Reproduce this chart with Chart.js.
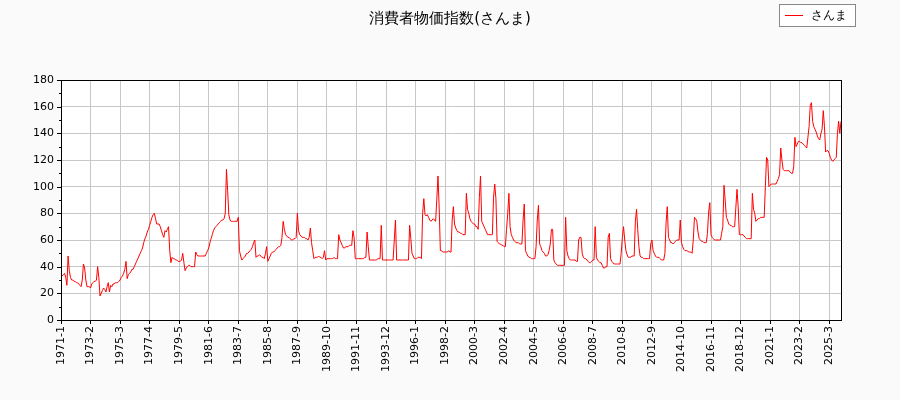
<!DOCTYPE html>
<html>
<head>
<meta charset="utf-8">
<script src="https://cdn.jsdelivr.net/npm/chart.js@4.4.0/dist/chart.umd.min.js"></script>
<style>
  body { margin: 0; background: #fafafa; }
  #wrap { width: 900px; height: 400px; }
</style>
</head>
<body>
<div id="wrap"><canvas id="c" width="900" height="400"></canvas></div>
<script>
// monthly index, starting 1971-1
const startYear = 1971;
const values = [
  35,33,34,35,32,26,48,37,32,30,30,29,
  29,28,28,27,26,25,30,42,39,30,25,25,
  25,24,27,28,29,29,30,40,32,18,20,22,
  24,23,21,25,28,21,26,25,27,27,28,28,
  28,29,30,32,33,35,38,44,31,34,35,36,
  38,38,40,42,44,46,48,50,52,54,58,61,
  63,66,68,71,74,77,79,80,76,72,72,72,
  70,67,64,62,67,66,68,70,52,43,47,46,
  46,45,45,44,44,44,45,50,43,37,39,40,
  41,41,40,40,40,40,51,49,48,48,48,48,
  48,48,48,50,52,54,58,61,64,67,69,70,
  71,72,73,74,75,75,76,80,113,97,79,75,
  74,74,74,74,74,74,77,52,48,45,46,47,
  48,50,50,51,52,53,55,58,60,47,48,48,
  49,48,47,47,46,50,55,44,46,48,50,51,
  51,52,53,54,55,55,56,62,74,68,64,63,
  62,62,61,60,60,61,61,62,80,67,64,63,
  62,62,62,61,61,60,62,69,58,52,46,47,
  47,47,48,47,47,46,47,52,45,46,46,46,
  46,46,46,47,46,46,46,64,60,58,56,54,
  54,55,55,55,56,56,56,67,62,46,46,46,
  46,46,46,46,46,47,47,66,55,45,45,45,
  45,45,45,45,46,46,46,71,45,45,45,45,
  45,45,45,45,45,45,60,75,45,45,45,45,
  45,45,45,45,45,45,45,71,61,50,48,46,
  46,46,47,47,47,46,80,91,79,78,79,77,
  75,74,75,76,75,74,91,108,84,52,52,51,
  51,51,51,51,52,51,51,75,85,72,69,67,
  66,66,65,65,64,64,64,95,83,80,76,74,
  73,72,72,70,70,68,92,108,74,72,70,68,
  66,64,64,64,64,64,92,102,91,59,58,57,
  57,56,56,55,55,68,80,95,70,64,62,60,
  59,58,58,58,57,57,57,75,87,52,50,48,
  47,47,46,46,46,46,55,75,86,57,55,52,
  51,50,48,48,49,52,57,68,68,45,43,42,
  41,41,41,41,41,41,41,77,52,48,46,45,
  45,45,45,45,44,44,60,62,62,50,47,46,
  46,45,44,43,43,44,45,45,70,47,45,44,
  43,43,41,39,39,40,40,62,65,46,44,43,
  42,42,42,42,42,42,50,62,70,60,52,49,
  47,47,47,48,48,48,74,83,68,55,48,47,
  47,46,46,46,46,46,46,57,60,52,50,48,
  47,47,47,46,45,45,45,50,73,85,62,60,
  58,58,57,58,59,60,60,60,75,58,55,53,
  52,52,52,51,51,51,50,60,77,76,74,66,
  61,60,59,59,58,58,58,65,81,88,64,62,
  61,60,60,60,60,60,60,65,70,101,90,77,
  75,72,71,71,70,70,70,84,98,85,64,64,
  64,64,63,62,61,61,61,61,61,95,83,80,
  74,75,76,76,77,77,77,77,100,122,120,100,
  101,102,102,102,102,102,104,106,109,129,120,113,
  112,112,112,112,112,111,110,110,115,137,130,132,
  134,134,133,133,132,131,130,129,137,145,161,163,
  149,145,143,141,138,136,135,140,143,157,145,126,
  127,127,125,122,120,119,120,121,122,140,149,140,
  149
];
const labels = values.map((v, i) => (startYear + Math.floor(i / 12)) + '-' + (i % 12 + 1));
const tickEvery = 25;
const yTicks = [0, 20, 40, 60, 80, 100, 120, 140, 160, 180];
const seriesName = 'さんま';
const titleText = '消費者物価指数(さんま)';

const FONT = "'DejaVu Sans', sans-serif";

const decor = {
  id: 'decor',
  beforeDraw(chart) {
    const { ctx, chartArea: a } = chart;
    ctx.save();
    ctx.fillStyle = '#fafafa';
    ctx.fillRect(0, 0, chart.width, chart.height);
    ctx.fillStyle = '#ffffff';
    ctx.fillRect(a.left, a.top, a.right - a.left, a.bottom - a.top);
    ctx.restore();
  },
  afterDraw(chart) {
    const { ctx, chartArea: a } = chart;
    ctx.save();
    // frame
    ctx.strokeStyle = '#000';
    ctx.lineWidth = 1;
    ctx.strokeRect(a.left + 0.5, a.top + 0.5, a.right - a.left, a.bottom - a.top);
    // minor y ticks
    const y = chart.scales.y;
    for (let v = 0; v <= 180; v += 10) {
      const py = Math.round(y.getPixelForValue(v)) + 0.5;
      ctx.beginPath();
      ctx.moveTo(a.left - (v % 20 === 0 ? 4 : 2), py);
      ctx.lineTo(a.left, py);
      ctx.stroke();
    }
    // title
    ctx.fillStyle = '#000';
    ctx.font = "15px " + FONT;
    ctx.textAlign = 'center';
    ctx.textBaseline = 'middle';
    ctx.fillText(titleText, 450, 19);
    // legend
    ctx.fillStyle = '#fff';
    ctx.fillRect(779.5, 4.5, 76, 22);
    ctx.strokeStyle = '#888';
    ctx.strokeRect(779.5, 4.5, 76, 22);
    ctx.strokeStyle = 'red';
    ctx.beginPath();
    ctx.moveTo(785, 15.5);
    ctx.lineTo(803, 15.5);
    ctx.stroke();
    ctx.fillStyle = '#000';
    ctx.font = "12px " + FONT;
    ctx.textAlign = 'left';
    ctx.fillText(seriesName, 811, 15.5);
    ctx.restore();
  }
};

new Chart(document.getElementById('c').getContext('2d'), {
  type: 'line',
  data: {
    labels: labels,
    datasets: [{
      label: seriesName,
      data: values,
      borderColor: 'red',
      borderWidth: 1,
      pointRadius: 0,
      tension: 0,
      fill: false
    }]
  },
  options: {
    responsive: false,
    animation: false,
    layout: { padding: { top: 80, right: 59, left: 0, bottom: 0 } },
    plugins: { legend: { display: false }, title: { display: false }, tooltip: { enabled: false } },
    scales: {
      x: {
        type: 'category',
        offset: false,
        afterFit: s => { s.height = 80; },
        grid: { color: '#c8c8c8', drawTicks: true, tickLength: 4, tickColor: '#000' },
        border: { color: '#000' },
        ticks: {
          autoSkip: false,
          maxRotation: 90,
          minRotation: 90,
          color: '#000',
          font: { family: FONT, size: 11 },
          padding: 2,
          callback: function (value, index) {
            return index % tickEvery === 0 ? labels[index] : null;
          }
        }
      },
      y: {
        min: 0,
        max: 180,
        afterFit: s => { s.width = 61; },
        afterBuildTicks: s => { s.ticks = yTicks.map(v => ({ value: v })); },
        grid: { color: '#c8c8c8', drawTicks: false },
        border: { color: '#000' },
        ticks: { color: '#000', font: { family: FONT, size: 11 }, padding: 7 }
      }
    }
  },
  plugins: [decor]
});
</script>
</body>
</html>
